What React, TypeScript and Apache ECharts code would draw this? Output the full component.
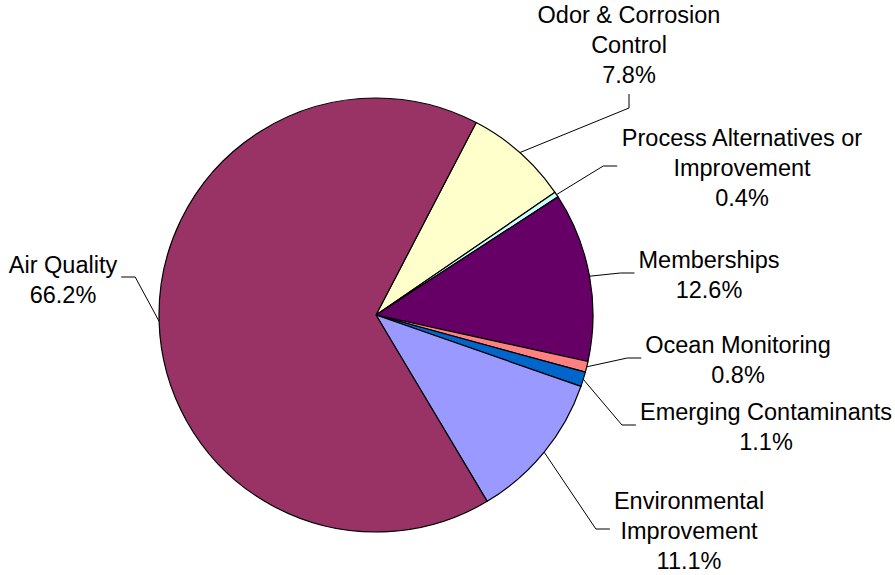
import React, { useEffect, useRef } from "react";
import * as echarts from "echarts";

// ---- data ----
const categories: string[] = [
  "Odor & Corrosion\nControl",
  "Process Alternatives or\nImprovement",
  "Memberships",
  "Ocean Monitoring",
  "Emerging Contaminants",
  "Environmental\nImprovement",
  "Air Quality",
];
const values: number[] = [7.8, 0.4, 12.6, 0.8, 1.1, 11.1, 66.2];

// ---- styles / layout ----
const sliceColors: string[] = [
  "#FFFFCC",
  "#CCFFFF",
  "#660066",
  "#FF8080",
  "#0066CC",
  "#9999FF",
  "#993366",
];
// label block centre and side from which the leader leaves the label
const labelCenters: [number, number][] = [
  [629, 45],
  [742, 168],
  [709, 275],
  [738, 360],
  [766, 427],
  [689, 531],
  [63, 280],
];
const labelSides: string[] = ["bottom", "left", "left", "left", "left", "left", "right"];

const FONT_SIZE = 23.5;
const LINE_HEIGHT = 30;
const GAP = 4;
const STUB = 14;

export default function App() {
  const ref = useRef<HTMLDivElement>(null);

  useEffect(() => {
    if (!ref.current) return;
    const chart = echarts.init(ref.current, undefined, { renderer: "svg" });
    const option: any = {
      animation: false,
      backgroundColor: "#ffffff",
      series: [
        {
          type: "pie",
          center: [376, 315],
          radius: 217,
          startAngle: 62.5,
          clockwise: true,
          avoidLabelOverlap: false,
          minShowLabelAngle: 0,
          data: categories.map((name, i) => ({
            name,
            value: values[i],
            itemStyle: { color: sliceColors[i] },
          })),
          itemStyle: { borderColor: "#000000", borderWidth: 1.2 },
          emphasis: { disabled: true },
          label: {
            show: true,
            position: "outside",
            color: "#000000",
            fontFamily: "Liberation Sans, Arial, sans-serif",
            fontSize: FONT_SIZE,
            lineHeight: LINE_HEIGHT,
            align: "center",
            formatter: (p: any) => `${p.name}\n${values[p.dataIndex].toFixed(1)}%`,
          },
          labelLine: {
            show: true,
            length: 10,
            length2: 10,
            lineStyle: { color: "#000000", width: 1 },
          },
          labelLayout: (params: any) => {
            const i = params.dataIndex;
            const [cx, cy] = labelCenters[i];
            const w = params.labelRect.width;
            const h = params.labelRect.height;
            const side = labelSides[i];
            let end: number[];
            let turn: number[];
            if (side === "left") {
              end = [cx - w / 2 - GAP, cy - 2];
              turn = [end[0] - STUB, end[1]];
            } else if (side === "right") {
              end = [cx + w / 2 + GAP, cy - 3];
              turn = [end[0] + STUB, end[1]];
            } else {
              end = [cx, cy + h / 2 + GAP];
              turn = [end[0], end[1] + STUB];
            }
            const arcPt = params.labelLinePoints ? params.labelLinePoints[0] : turn;
            return {
              x: cx,
              y: cy,
              align: "center",
              verticalAlign: "middle",
              labelLinePoints: [arcPt, turn, end],
            };
          },
        },
      ],
    };
    chart.setOption(option);
    return () => {
      chart.dispose();
    };
  }, []);

  return (
    <div
      ref={ref}
      style={{ position: "fixed", left: 0, top: 0, width: 895, height: 575, background: "#fff" }}
    />
  );
}
